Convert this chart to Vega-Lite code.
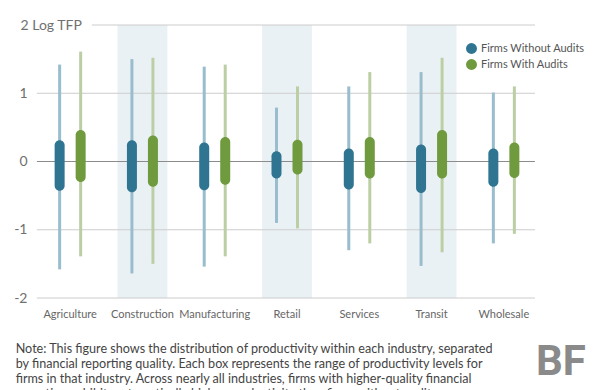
{
  "$schema": "https://vega.github.io/schema/vega-lite/v6.json",
  "width": 506,
  "height": 273,
  "autosize": {"type": "none"},
  "padding": {"left": 34, "top": 25, "right": 60, "bottom": 92},
  "background": "white",
  "config": {"view": {"stroke": null}, "font": "Lato"},
  "title": {
    "text": [
      "Note: This figure shows the distribution of productivity within each industry, separated",
      "by financial reporting quality. Each box represents the range of productivity levels for",
      "firms in that industry. Across nearly all industries, firms with higher-quality financial",
      "reporting exhibit systematically higher productivity than firms without audits."
    ],
    "orient": "bottom",
    "anchor": "start",
    "dx": 2,
    "offset": -40,
    "fontSize": 12.6,
    "fontWeight": "normal",
    "color": "#444",
    "lineHeight": 15,
    "baseline": "top"
  },
  "datasets": {
    "boxes": [
      {"industry": "Agriculture", "group": "Firms Without Audits", "lo": -1.58, "q1": -0.43, "q3": 0.31, "hi": 1.42},
      {"industry": "Agriculture", "group": "Firms With Audits", "lo": -1.39, "q1": -0.30, "q3": 0.46, "hi": 1.61},
      {"industry": "Construction", "group": "Firms Without Audits", "lo": -1.64, "q1": -0.45, "q3": 0.31, "hi": 1.50},
      {"industry": "Construction", "group": "Firms With Audits", "lo": -1.50, "q1": -0.37, "q3": 0.38, "hi": 1.52},
      {"industry": "Manufacturing", "group": "Firms Without Audits", "lo": -1.54, "q1": -0.42, "q3": 0.28, "hi": 1.39},
      {"industry": "Manufacturing", "group": "Firms With Audits", "lo": -1.39, "q1": -0.34, "q3": 0.36, "hi": 1.42},
      {"industry": "Retail", "group": "Firms Without Audits", "lo": -0.90, "q1": -0.25, "q3": 0.15, "hi": 0.79},
      {"industry": "Retail", "group": "Firms With Audits", "lo": -0.98, "q1": -0.19, "q3": 0.32, "hi": 1.10},
      {"industry": "Services", "group": "Firms Without Audits", "lo": -1.30, "q1": -0.41, "q3": 0.19, "hi": 1.10},
      {"industry": "Services", "group": "Firms With Audits", "lo": -1.20, "q1": -0.25, "q3": 0.36, "hi": 1.31},
      {"industry": "Transit", "group": "Firms Without Audits", "lo": -1.53, "q1": -0.46, "q3": 0.25, "hi": 1.31},
      {"industry": "Transit", "group": "Firms With Audits", "lo": -1.33, "q1": -0.25, "q3": 0.46, "hi": 1.52},
      {"industry": "Wholesale", "group": "Firms Without Audits", "lo": -1.20, "q1": -0.37, "q3": 0.19, "hi": 1.01},
      {"industry": "Wholesale", "group": "Firms With Audits", "lo": -1.06, "q1": -0.24, "q3": 0.28, "hi": 1.10}
    ],
    "shade": [
      {"industry": "Construction"},
      {"industry": "Retail"},
      {"industry": "Transit"}
    ],
    "grid": [{"v": -2}, {"v": -1}, {"v": 1}]
  },
  "layer": [
    {
      "data": {"name": "shade"},
      "mark": {"type": "bar", "color": "#eaf1f5", "width": {"band": 0.69}},
      "encoding": {
        "x": {
          "field": "industry",
          "type": "nominal",
          "sort": null,
          "scale": {
            "domain": ["Agriculture", "Construction", "Manufacturing", "Retail", "Services", "Transit", "Wholesale"],
            "paddingInner": 0,
            "paddingOuter": 0
          },
          "axis": {
            "title": null,
            "domain": false,
            "ticks": false,
            "labelAngle": 0,
            "labelPadding": 10,
            "labelFontSize": 11,
            "labelColor": "#666"
          }
        },
        "y": {
          "datum": 2,
          "type": "quantitative",
          "scale": {"domain": [-2, 2], "nice": false, "zero": false},
          "axis": {
            "title": null,
            "values": [-2, -1, 0, 1, 2],
            "grid": false,
            "domain": false,
            "ticks": false,
            "labelFontSize": 14,
            "labelColor": "#707070",
            "labelExpr": "datum.value == 2 ? '2 Log TFP' : toString(datum.value)",
            "labelAlign": {"condition": {"test": "datum.value == 2", "value": "left"}, "value": "right"},
            "labelPadding": {"condition": {"test": "datum.value == 2", "value": 14}, "value": 7}
          }
        },
        "y2": {"datum": -2}
      }
    },
    {
      "data": {"name": "grid"},
      "mark": {"type": "rule", "color": "#cccccc", "strokeWidth": 1},
      "encoding": {
        "x": {"datum": "Agriculture", "type": "nominal", "bandPosition": 0.04},
        "x2": {"datum": "Wholesale", "bandPosition": 0.93},
        "y": {"field": "v", "type": "quantitative"}
      }
    },
    {
      "data": {"values": [{"v": 2}]},
      "mark": {"type": "rule", "color": "#cccccc", "strokeWidth": 1},
      "encoding": {
        "x": {"datum": "Agriculture", "type": "nominal", "bandPosition": 0.8},
        "x2": {"datum": "Wholesale", "bandPosition": 0.93},
        "y": {"field": "v", "type": "quantitative"}
      }
    },
    {
      "data": {"values": [{"v": 0}]},
      "mark": {"type": "rule", "color": "#8c8c8c", "strokeWidth": 1.2},
      "encoding": {
        "x": {"datum": "Agriculture", "type": "nominal", "bandPosition": 0.04},
        "x2": {"datum": "Wholesale", "bandPosition": 0.93},
        "y": {"field": "v", "type": "quantitative"}
      }
    },
    {
      "data": {"name": "boxes"},
      "mark": {"type": "rule", "strokeWidth": 3},
      "encoding": {
        "x": {"field": "industry", "type": "nominal", "sort": null},
        "xOffset": {
          "field": "group",
          "type": "nominal",
          "sort": null,
          "scale": {"domain": ["Firms Without Audits", "Firms With Audits"], "paddingInner": 0, "paddingOuter": 0.72}
        },
        "y": {"field": "lo", "type": "quantitative"},
        "y2": {"field": "hi"},
        "stroke": {
          "condition": {"test": "datum.group == 'Firms With Audits'", "value": "#bccfa4"},
          "value": "#98bdcc"
        }
      }
    },
    {
      "data": {"name": "boxes"},
      "mark": {"type": "bar", "width": 10, "cornerRadius": 5},
      "encoding": {
        "x": {"field": "industry", "type": "nominal", "sort": null},
        "xOffset": {"field": "group", "type": "nominal", "sort": null},
        "y": {"field": "q1", "type": "quantitative"},
        "y2": {"field": "q3"},
        "color": {
          "field": "group",
          "type": "nominal",
          "scale": {"domain": ["Firms Without Audits", "Firms With Audits"], "range": ["#2f7592", "#6f9a3e"]},
          "legend": {
            "orient": "none",
            "legendX": 432,
            "legendY": 18,
            "title": null,
            "symbolType": "circle",
            "symbolSize": 120,
            "symbolStrokeWidth": 0,
            "labelFontSize": 11,
            "labelColor": "#555",
            "rowPadding": 4
          }
        }
      }
    },
    {
      "data": {"values": [{"t": "BF"}]},
      "mark": {"type": "text", "fontSize": 42, "fontWeight": "bold", "color": "#8a8a8a", "font": "Roboto", "dx": 57, "align": "center", "baseline": "middle"},
      "encoding": {
        "x": {"datum": "Wholesale", "type": "nominal"},
        "y": {"datum": -2.94, "type": "quantitative"},
        "text": {"field": "t"}
      }
    }
  ]
}
